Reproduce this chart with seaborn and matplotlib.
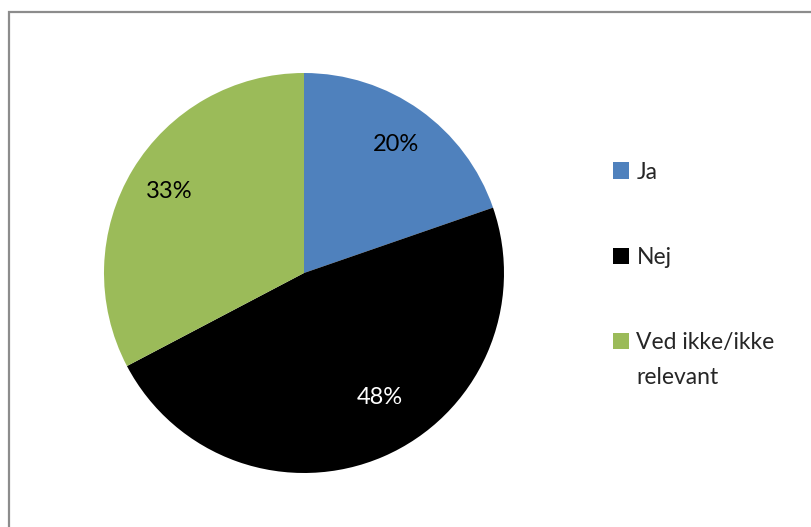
import matplotlib
matplotlib.use("Agg")
import numpy as np
import matplotlib.pyplot as plt
from matplotlib.patches import Rectangle
import seaborn as sns

# Data
labels = ["Ja", "Nej", "Ved ikke/ikke"]
extra_line = "relevant"
values = [19.7, 47.6, 32.7]
colors = ["#4F81BD", "#000000", "#9BBB59"]
pct_colors = ["black", "white", "black"]

sns.set_style("white")
plt.rcParams["font.family"] = ["Lato", "DejaVu Sans"]

W, H = 811, 527
fig = plt.figure(figsize=(W / 100, H / 100), dpi=100)

# pie area: centre (304, 273), radius 200 px
ax = fig.add_axes([104 / W, (H - 473) / H, 400 / W, 400 / H])
wedges, texts, autotexts = ax.pie(
    values,
    colors=colors,
    startangle=90,
    counterclock=False,
    autopct="%.0f%%",
    pctdistance=0.79,
    wedgeprops=dict(linewidth=0),
    textprops=dict(fontsize=17),
)
for t, c in zip(autotexts, pct_colors):
    t.set_color(c)

# excel "best fit" puts the Nej label a bit off the wedge middle
w = wedges[1]
ang = np.deg2rad((w.theta1 + w.theta2) / 2 + 8)
autotexts[1].set_position((0.73 * np.cos(ang), 0.73 * np.sin(ang)))

ax.set_xlim(-1, 1)
ax.set_ylim(-1, 1)
ax.set_aspect("equal")

leg = fig.legend(
    wedges, labels,
    loc="upper left",
    bbox_to_anchor=(592 / W, 1 - 141 / H),
    frameon=False,
    fontsize=16.5,
    handlelength=0.72,
    handleheight=0.72,
    handletextpad=0.32,
    labelspacing=2.8,
)

# second line of the last legend label, placed under the first line
fig.canvas.draw()
bb = leg.get_texts()[-1].get_window_extent()
fig.text(bb.x0 / W, (bb.y0 - 35) / H, extra_line, fontsize=16.5,
         ha="left", va="bottom")

# chart-area border (only top and left edges visible)
fig.patches.append(Rectangle((9 / W, -0.2), 1.5, 1.2 - 12 / H,
                             transform=fig.transFigure, fill=False,
                             edgecolor="#8c8c8c", linewidth=1.6))

plt.savefig("out.png", dpi=100)
